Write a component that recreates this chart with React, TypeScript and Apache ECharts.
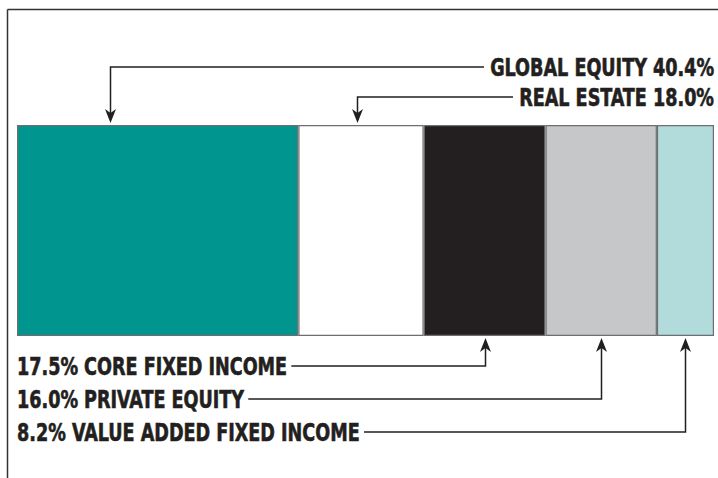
import React, { useEffect, useRef } from "react";
import * as echarts from "echarts";

const categories = ["Allocation"];
const segmentNames = [
  "GLOBAL EQUITY",
  "REAL ESTATE",
  "CORE FIXED INCOME",
  "PRIVATE EQUITY",
  "VALUE ADDED FIXED INCOME",
];
const segmentValues = [40.4, 18.0, 17.5, 16.0, 8.2];
const segmentColors = ["#00968f", "#ffffff", "#231f20", "#c6c7c9", "#b2dcdb"];
// where each arrow points within its segment (fraction of segment width)
const arrowFractions = [0.33, 0.47, 0.5, 0.5, 0.5];

const FONT_FAMILY = '"DejaVu Sans Condensed", "DejaVu Sans", sans-serif';
const FONT = `bold 24px ${FONT_FAMILY}`;
const INK = "#231f20";

export default function App() {
  const ref = useRef<HTMLDivElement>(null);
  useEffect(() => {
    if (!ref.current) return;
    document.body.style.margin = "0";
    const chart = echarts.init(ref.current, null, { renderer: "svg" });
    const total = segmentValues.reduce((a, b) => a + b, 0);
    chart.setOption({
      animation: false,
      grid: { left: 17, right: 4, top: 125, bottom: 142 },
      xAxis: { type: "value", min: 0, max: total, show: false },
      yAxis: { type: "category", data: categories, show: false },
      series: segmentValues.map((v, i) => ({
        name: segmentNames[i],
        type: "bar",
        stack: "total",
        barWidth: "100%",
        data: [v],
        itemStyle: { color: segmentColors[i], borderColor: "#6d6e71", borderWidth: 1.2 },
        silent: true,
      })),
    });

    const canvas = document.createElement("canvas");
    const ctx = canvas.getContext("2d")!;
    ctx.font = FONT;
    const measure = (t: string) => ctx.measureText(t).width;

    // compute arrow x positions through the axis scale
    const xs: number[] = [];
    let acc = 0;
    segmentValues.forEach((v, i) => {
      const x = chart.convertToPixel({ xAxisIndex: 0 }, acc + v * arrowFractions[i]) as number;
      xs.push(Math.round(x) + 0.5);
      acc += v;
    });
    const barTop = 125;
    const barBottom = 478 - 142;

    const topTexts = [
      `${segmentNames[0]} ${segmentValues[0].toFixed(1)}%`,
      `${segmentNames[1]} ${segmentValues[1].toFixed(1)}%`,
    ];
    const bottomTexts = [2, 3, 4].map(
      (i) => `${segmentValues[i].toFixed(1)}% ${segmentNames[i]}`
    );
    const sx = 224 / measure(topTexts[0]);

    const lineStyle = { stroke: INK, lineWidth: 1.5, fill: null };
    const downArrow = (x: number, tip: number) => ({
      type: "polygon",
      shape: { points: [[x, tip], [x - 5.5, tip - 14], [x, tip - 10], [x + 5.5, tip - 14]] },
      style: { fill: INK },
    });
    const upArrow = (x: number, tip: number) => ({
      type: "polygon",
      shape: { points: [[x, tip], [x - 5.5, tip + 14], [x, tip + 10], [x + 5.5, tip + 14]] },
      style: { fill: INK },
    });
    const textEl = (text: string, x: number, y: number, align: string) => ({
      type: "text",
      x,
      y,
      scaleX: sx,
      style: {
        text,
        fill: INK,
        font: FONT,
        align,
        verticalAlign: "middle",
        stroke: INK,
        lineWidth: 0.6,
      },
    });

    const topYs = [67, 97];
    const bottomYs = [366, 399, 432];

    const elements: any[] = [
      { type: "line", shape: { x1: 7.5, y1: 9.5, x2: 718, y2: 9.5 }, style: { stroke: "#333", lineWidth: 1.5 } },
      { type: "line", shape: { x1: 7.5, y1: 9.5, x2: 7.5, y2: 478 }, style: { stroke: "#333", lineWidth: 1.5 } },
    ];
    [0, 1].forEach((k) => {
      const end = 714 - measure(topTexts[k]) * sx - 6;
      elements.push({
        type: "polyline",
        shape: { points: [[end, topYs[k]], [xs[k], topYs[k]], [xs[k], barTop - 8]] },
        style: lineStyle,
      });
      elements.push(downArrow(xs[k], barTop - 2));
      elements.push(textEl(topTexts[k], 714, topYs[k] + 1, "right"));
    });
    [0, 1, 2].forEach((k) => {
      const i = k + 2;
      const start = 17 + measure(bottomTexts[k]) * sx + 4;
      elements.push({
        type: "polyline",
        shape: { points: [[start, bottomYs[k]], [xs[i], bottomYs[k]], [xs[i], barBottom + 8]] },
        style: lineStyle,
      });
      elements.push(upArrow(xs[i], barBottom + 2));
      elements.push(textEl(bottomTexts[k], 17, bottomYs[k] + 1, "left"));
    });
    chart.setOption({ graphic: { elements } });
    return () => chart.dispose();
  }, []);
  return (
    <div
      ref={ref}
      style={{ position: "absolute", left: 0, top: 0, width: 718, height: 478, background: "#fff" }}
    />
  );
}
